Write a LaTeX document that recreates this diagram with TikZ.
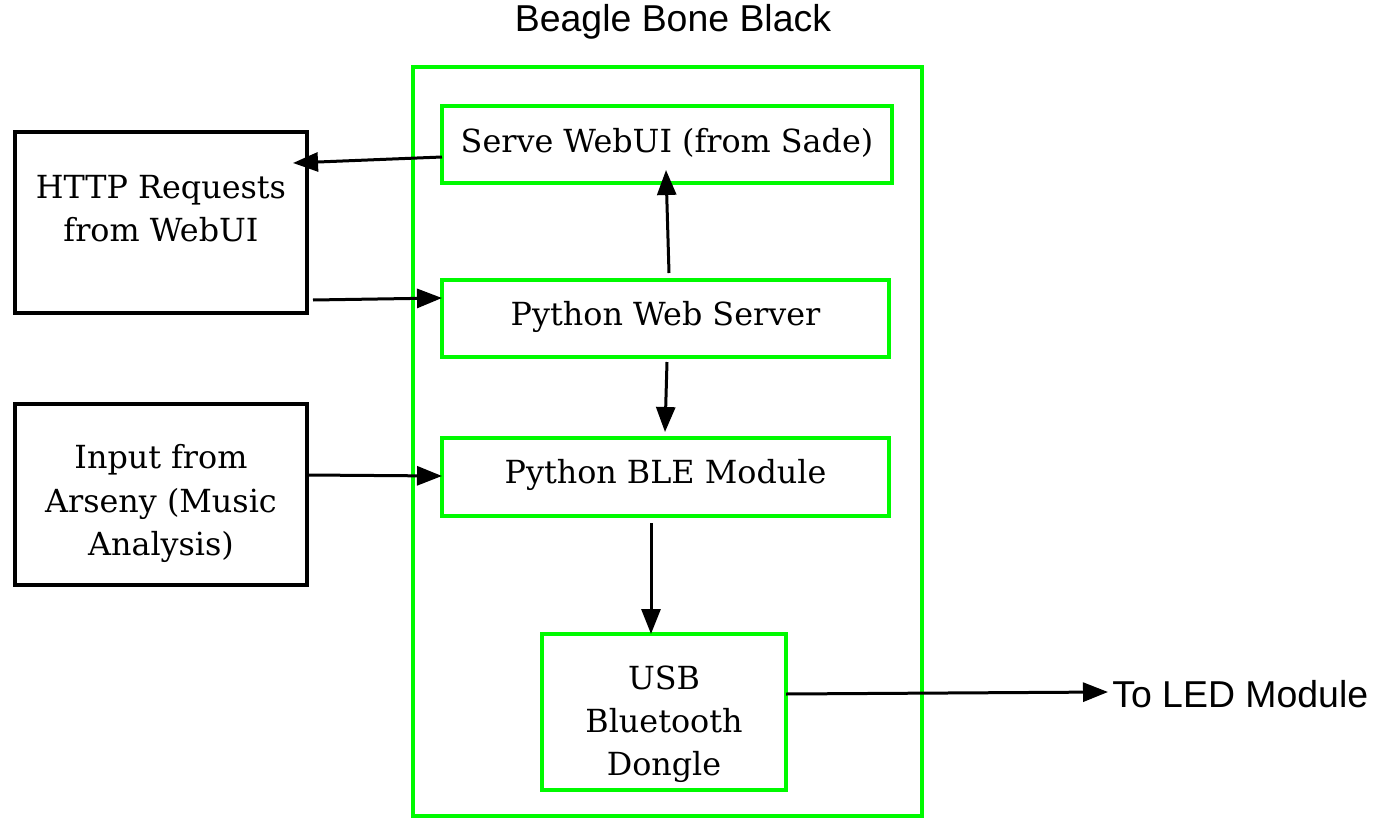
\documentclass[tikz,border=0pt]{standalone}
\usepackage{fontspec}
\setmainfont{DejaVu Serif}
\newfontfamily\labelfont{Liberation Sans}
\usetikzlibrary{arrows.meta}
\definecolor{boxgreen}{RGB}{0,250,0}
\begin{document}
\begin{tikzpicture}[x=0.02cm,y=-0.02cm,
  gbox/.style={draw=boxgreen,line width=0.065cm,inner sep=0pt},
  bbox/.style={draw=black,line width=0.065cm,inner sep=0pt},
  btext/.style={font=\fontsize{18.1}{24.6}\selectfont,align=center},
  ltext/.style={font=\labelfont\fontsize{21.3}{25}\selectfont,inner sep=0pt},
  conn/.style={line width=0.06cm,-{Triangle[length=0.5cm,width=0.38cm]}}]
\useasboundingbox (0,0) rectangle (1387,818);
% outer board
\draw[draw=boxgreen,line width=0.065cm] (413,67) rectangle (922,816);
\node[ltext] (title) at (673,22) {Beagle Bone Black};
% inner boxes
\draw[gbox] (442,106) rectangle (892,183);
\node[btext] (serve) at (667,143) {Serve WebUI (from Sade)};
\draw[gbox] (442,280) rectangle (889,357);
\node[btext] (pws) at (665.5,317) {Python Web Server};
\draw[gbox] (442,438) rectangle (889,516);
\node[btext] (ble) at (665.5,475) {Python BLE Module};
\draw[gbox] (542,634) rectangle (786,790);
\node[btext] (usb) at (664,724) {USB\\Bluetooth\\Dongle};
% outside boxes
\draw[bbox] (15,132) rectangle (307,313);
\node[btext] (http) at (161,209) {HTTP Requests\\from WebUI};
\draw[bbox] (15,404) rectangle (307,585);
\node[btext] (input) at (161,503.5) {Input from\\Arseny (Music\\Analysis)};
\node[ltext,anchor=west] (led) at (1112,694) {To LED Module};
% connector endpoints
\coordinate (a1) at (442,157); \coordinate (a2) at (293,163);
\coordinate (b1) at (313,300); \coordinate (b2) at (442,298);
\coordinate (c1) at (669,273); \coordinate (c2) at (666,170);
\coordinate (d1) at (667,362); \coordinate (d2) at (665,432);
\coordinate (e1) at (307,475); \coordinate (e2) at (442,476);
\coordinate (f1) at (651,523); \coordinate (f2) at (651,634);
\coordinate (g1) at (786,694); \coordinate (g2) at (1108,692);
\draw[conn] (a1) -- (a2);
\draw[conn] (b1) -- (b2);
\draw[conn] (c1) -- (c2);
\draw[conn] (d1) -- (d2);
\draw[conn] (e1) -- (e2);
\draw[conn] (f1) -- (f2);
\draw[conn] (g1) -- (g2);
\end{tikzpicture}
\end{document}
